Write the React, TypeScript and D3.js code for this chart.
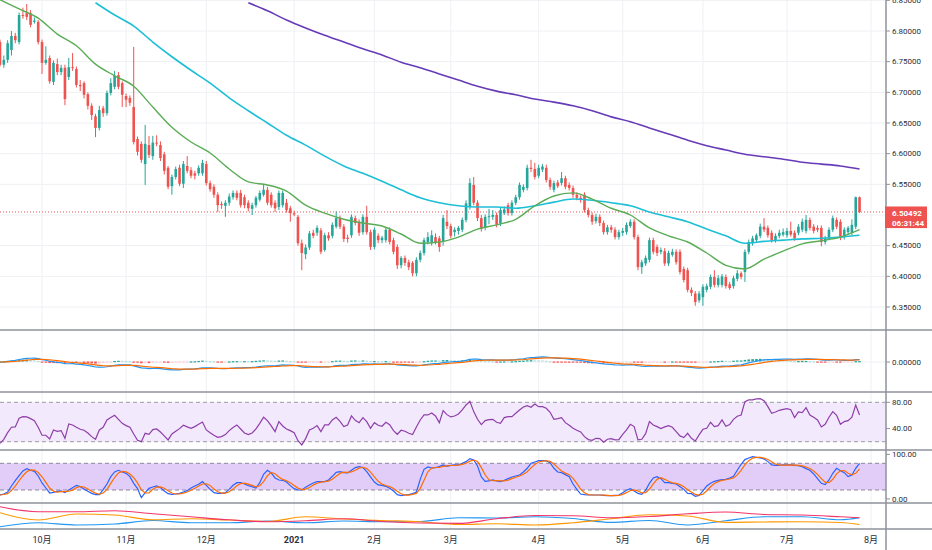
import * as d3 from 'd3';

// daily candles, bar 0 = mid Sep 2020, bar 225 = 28 Jul 2021
const opens = [
  6.782, 6.745, 6.753, 6.769, 6.792, 6.782, 6.826, 6.829, 6.829, 6.815,
  6.815, 6.782, 6.748, 6.756, 6.717, 6.746, 6.733, 6.740, 6.725, 6.741,
  6.738, 6.712, 6.715, 6.697, 6.678, 6.661, 6.642, 6.674, 6.666, 6.699,
  6.709, 6.728, 6.715, 6.694, 6.691, 6.676, 6.624, 6.616, 6.583, 6.614,
  6.596, 6.618, 6.614, 6.599, 6.577, 6.547, 6.562, 6.577, 6.551, 6.580,
  6.573, 6.568, 6.568, 6.568, 6.583, 6.552, 6.546, 6.533, 6.518, 6.515,
  6.520, 6.529, 6.536, 6.536, 6.529, 6.520, 6.510, 6.516, 6.525, 6.533,
  6.541, 6.533, 6.520, 6.513, 6.516, 6.520, 6.511, 6.503, 6.497, 6.454,
  6.436, 6.447, 6.471, 6.471, 6.475, 6.443, 6.467, 6.466, 6.481, 6.495,
  6.481, 6.463, 6.467, 6.495, 6.489, 6.472, 6.497, 6.472, 6.448, 6.466,
  6.459, 6.459, 6.476, 6.459, 6.448, 6.418, 6.430, 6.423, 6.422, 6.405,
  6.427, 6.438, 6.456, 6.455, 6.464, 6.462, 6.456, 6.489, 6.482, 6.472,
  6.474, 6.476, 6.492, 6.513, 6.549, 6.520, 6.495, 6.479, 6.497, 6.497,
  6.500, 6.486, 6.503, 6.516, 6.503, 6.520, 6.529, 6.541, 6.544, 6.577,
  6.575, 6.564, 6.574, 6.577, 6.557, 6.541, 6.553, 6.552, 6.560, 6.549,
  6.544, 6.533, 6.528, 6.533, 6.508, 6.500, 6.490, 6.497, 6.487, 6.472,
  6.480, 6.476, 6.464, 6.471, 6.472, 6.482, 6.489, 6.464, 6.415, 6.421,
  6.427, 6.459, 6.448, 6.440, 6.441, 6.421, 6.435, 6.440, 6.440, 6.412,
  6.410, 6.378, 6.372, 6.361, 6.366, 6.378, 6.383, 6.399, 6.386, 6.386,
  6.399, 6.387, 6.384, 6.396, 6.405, 6.407, 6.440, 6.454, 6.459, 6.466,
  6.481, 6.479, 6.471, 6.459, 6.466, 6.468, 6.467, 6.474, 6.471, 6.471,
  6.476, 6.474, 6.492, 6.481, 6.479, 6.479, 6.456, 6.463, 6.476, 6.492,
  6.489, 6.464, 6.472, 6.471, 6.481, 6.529,
];
const highs = [
  6.786, 6.760, 6.785, 6.800, 6.797, 6.830, 6.838, 6.844, 6.834, 6.822,
  6.818, 6.786, 6.775, 6.760, 6.752, 6.755, 6.745, 6.745, 6.756, 6.764,
  6.742, 6.720, 6.718, 6.700, 6.682, 6.665, 6.678, 6.678, 6.703, 6.723,
  6.735, 6.733, 6.718, 6.698, 6.695, 6.774, 6.628, 6.620, 6.647, 6.629,
  6.629, 6.630, 6.620, 6.603, 6.580, 6.566, 6.579, 6.582, 6.588, 6.596,
  6.578, 6.572, 6.581, 6.590, 6.588, 6.556, 6.550, 6.537, 6.522, 6.524,
  6.535, 6.540, 6.540, 6.541, 6.533, 6.524, 6.520, 6.531, 6.540, 6.549,
  6.546, 6.537, 6.524, 6.540, 6.540, 6.526, 6.515, 6.507, 6.500, 6.460,
  6.452, 6.474, 6.476, 6.483, 6.479, 6.471, 6.472, 6.488, 6.506, 6.499,
  6.485, 6.468, 6.501, 6.499, 6.493, 6.501, 6.515, 6.476, 6.480, 6.470,
  6.466, 6.480, 6.480, 6.463, 6.452, 6.433, 6.434, 6.427, 6.425, 6.431,
  6.442, 6.463, 6.472, 6.475, 6.470, 6.466, 6.500, 6.508, 6.486, 6.480,
  6.482, 6.496, 6.524, 6.560, 6.562, 6.524, 6.500, 6.501, 6.510, 6.508,
  6.504, 6.512, 6.514, 6.520, 6.524, 6.533, 6.553, 6.550, 6.582, 6.590,
  6.585, 6.582, 6.583, 6.582, 6.561, 6.556, 6.557, 6.570, 6.564, 6.553,
  6.548, 6.537, 6.532, 6.537, 6.512, 6.504, 6.502, 6.501, 6.491, 6.484,
  6.484, 6.480, 6.476, 6.479, 6.488, 6.493, 6.493, 6.468, 6.427, 6.434,
  6.463, 6.463, 6.452, 6.447, 6.446, 6.442, 6.445, 6.444, 6.444, 6.416,
  6.414, 6.382, 6.376, 6.376, 6.387, 6.388, 6.403, 6.410, 6.402, 6.404,
  6.403, 6.391, 6.401, 6.410, 6.408, 6.444, 6.460, 6.466, 6.470, 6.486,
  6.495, 6.483, 6.475, 6.470, 6.476, 6.478, 6.479, 6.489, 6.475, 6.485,
  6.494, 6.500, 6.496, 6.485, 6.483, 6.483, 6.466, 6.480, 6.499, 6.496,
  6.493, 6.480, 6.482, 6.493, 6.530, 6.530,
];
const lows = [
  6.742, 6.740, 6.748, 6.760, 6.780, 6.778, 6.820, 6.818, 6.806, 6.812,
  6.778, 6.730, 6.745, 6.714, 6.712, 6.728, 6.728, 6.679, 6.720, 6.735,
  6.708, 6.702, 6.690, 6.672, 6.655, 6.627, 6.638, 6.660, 6.662, 6.695,
  6.705, 6.705, 6.676, 6.676, 6.678, 6.615, 6.597, 6.585, 6.549, 6.593,
  6.590, 6.612, 6.588, 6.566, 6.542, 6.533, 6.558, 6.547, 6.544, 6.568,
  6.560, 6.558, 6.564, 6.564, 6.548, 6.538, 6.528, 6.505, 6.510, 6.497,
  6.515, 6.525, 6.524, 6.512, 6.511, 6.506, 6.500, 6.512, 6.522, 6.530,
  6.516, 6.512, 6.505, 6.508, 6.512, 6.504, 6.489, 6.498, 6.450, 6.410,
  6.428, 6.443, 6.462, 6.466, 6.436, 6.440, 6.458, 6.462, 6.478, 6.477,
  6.456, 6.455, 6.463, 6.483, 6.466, 6.468, 6.468, 6.443, 6.444, 6.454,
  6.454, 6.455, 6.452, 6.436, 6.412, 6.413, 6.417, 6.410, 6.400, 6.400,
  6.423, 6.434, 6.452, 6.450, 6.452, 6.440, 6.450, 6.477, 6.462, 6.465,
  6.468, 6.472, 6.488, 6.509, 6.516, 6.490, 6.473, 6.475, 6.485, 6.492,
  6.480, 6.482, 6.500, 6.499, 6.499, 6.516, 6.525, 6.537, 6.540, 6.570,
  6.558, 6.560, 6.570, 6.553, 6.541, 6.537, 6.544, 6.548, 6.542, 6.540,
  6.528, 6.524, 6.520, 6.504, 6.496, 6.484, 6.486, 6.482, 6.468, 6.468,
  6.471, 6.460, 6.460, 6.466, 6.468, 6.479, 6.460, 6.410, 6.404, 6.417,
  6.423, 6.436, 6.433, 6.436, 6.417, 6.417, 6.432, 6.419, 6.403, 6.390,
  6.374, 6.368, 6.352, 6.357, 6.352, 6.374, 6.379, 6.382, 6.382, 6.382,
  6.380, 6.378, 6.380, 6.392, 6.395, 6.391, 6.436, 6.450, 6.455, 6.462,
  6.472, 6.463, 6.455, 6.455, 6.462, 6.465, 6.463, 6.465, 6.458, 6.467,
  6.472, 6.470, 6.475, 6.470, 6.472, 6.449, 6.452, 6.459, 6.472, 6.477,
  6.459, 6.460, 6.468, 6.467, 6.477, 6.503,
];
const closes = [
  6.745, 6.753, 6.780, 6.792, 6.785, 6.826, 6.825, 6.823, 6.810, 6.817,
  6.782, 6.748, 6.753, 6.718, 6.748, 6.733, 6.740, 6.689, 6.741, 6.740,
  6.712, 6.710, 6.696, 6.678, 6.663, 6.642, 6.671, 6.666, 6.699, 6.715,
  6.727, 6.709, 6.696, 6.688, 6.683, 6.619, 6.603, 6.590, 6.616, 6.598,
  6.618, 6.617, 6.593, 6.572, 6.546, 6.562, 6.575, 6.551, 6.583, 6.572,
  6.564, 6.564, 6.577, 6.585, 6.552, 6.542, 6.533, 6.516, 6.516, 6.520,
  6.530, 6.536, 6.528, 6.516, 6.516, 6.511, 6.516, 6.528, 6.536, 6.541,
  6.520, 6.516, 6.511, 6.536, 6.536, 6.508, 6.503, 6.501, 6.454, 6.438,
  6.447, 6.470, 6.466, 6.479, 6.440, 6.467, 6.462, 6.484, 6.495, 6.481,
  6.461, 6.461, 6.497, 6.487, 6.471, 6.497, 6.472, 6.448, 6.476, 6.459,
  6.463, 6.476, 6.456, 6.440, 6.418, 6.430, 6.422, 6.415, 6.405, 6.427,
  6.438, 6.459, 6.464, 6.467, 6.456, 6.448, 6.495, 6.482, 6.466, 6.476,
  6.479, 6.492, 6.519, 6.552, 6.520, 6.495, 6.477, 6.497, 6.498, 6.500,
  6.484, 6.508, 6.509, 6.503, 6.520, 6.529, 6.549, 6.546, 6.577, 6.575,
  6.562, 6.577, 6.579, 6.557, 6.546, 6.552, 6.547, 6.560, 6.546, 6.544,
  6.533, 6.528, 6.525, 6.508, 6.500, 6.489, 6.497, 6.487, 6.472, 6.480,
  6.476, 6.464, 6.472, 6.474, 6.484, 6.489, 6.464, 6.415, 6.423, 6.430,
  6.459, 6.440, 6.438, 6.443, 6.421, 6.438, 6.440, 6.423, 6.407, 6.394,
  6.378, 6.373, 6.358, 6.372, 6.383, 6.384, 6.399, 6.386, 6.397, 6.400,
  6.384, 6.381, 6.397, 6.405, 6.399, 6.440, 6.456, 6.462, 6.467, 6.481,
  6.476, 6.467, 6.459, 6.466, 6.471, 6.472, 6.474, 6.468, 6.462, 6.481,
  6.489, 6.492, 6.479, 6.474, 6.476, 6.456, 6.461, 6.476, 6.495, 6.481,
  6.463, 6.476, 6.479, 6.484, 6.529, 6.505,
];

// moving averages, one value every 5 bars
const MA_STEP = 5;
const maFastStart = 0;
const maFast = [
  6.851, 6.836, 6.821, 6.795, 6.776, 6.746, 6.727, 6.710, 6.676, 6.643,
  6.619, 6.601, 6.575, 6.554, 6.549, 6.539, 6.516, 6.503, 6.493, 6.487,
  6.482, 6.469, 6.454, 6.456, 6.464, 6.477, 6.484, 6.493, 6.515, 6.531,
  6.536, 6.526, 6.511, 6.500, 6.479, 6.466, 6.456, 6.438, 6.418, 6.412,
  6.428, 6.441, 6.453, 6.458, 6.464, 6.476,
];
const maMidStart = 25;
const maMid = [
  6.846, 6.826, 6.808, 6.782, 6.758, 6.736, 6.715, 6.691, 6.670, 6.650,
  6.630, 6.614, 6.596, 6.580, 6.568, 6.555, 6.541, 6.528, 6.520, 6.515,
  6.513, 6.513, 6.511, 6.515, 6.521, 6.526, 6.524, 6.520, 6.515, 6.505,
  6.497, 6.489, 6.477, 6.466, 6.454, 6.457, 6.459, 6.461, 6.462, 6.464,
  6.467,
];
const maSlowStart = 65;
const maSlow = [
  6.846, 6.833, 6.818, 6.805, 6.793, 6.782, 6.771, 6.761, 6.749, 6.740,
  6.730, 6.720, 6.710, 6.702, 6.696, 6.689, 6.684, 6.678, 6.670, 6.660,
  6.652, 6.642, 6.632, 6.622, 6.613, 6.606, 6.599, 6.595, 6.591, 6.586,
  6.583, 6.580, 6.575,
];

const rsi = [
  17.6, 23.6, 33.8, 42.0, 42.5, 55.6, 58.2, 57.7, 55.1, 52.1,
  42.0, 29.8, 29.8, 24.2, 37.9, 35.9, 36.9, 25.2, 47.0, 45.5,
  42.0, 38.9, 37.4, 33.3, 27.7, 23.7, 37.9, 42.0, 53.1, 56.7,
  60.2, 54.1, 48.0, 44.5, 42.0, 31.8, 22.2, 20.1, 32.8, 31.3,
  38.4, 39.4, 34.8, 28.8, 22.7, 31.8, 35.9, 39.9, 45.0, 42.5,
  40.4, 43.0, 46.5, 50.0, 37.9, 33.8, 29.8, 26.7, 27.7, 30.8,
  36.9, 41.5, 45.5, 39.4, 33.3, 30.8, 33.3, 39.4, 48.0, 57.2,
  52.1, 44.0, 35.4, 50.6, 44.0, 39.4, 36.9, 33.8, 21.6, 15.1,
  24.7, 37.9, 40.4, 44.5, 35.4, 45.5, 45.5, 53.1, 57.2, 51.1,
  43.0, 45.5, 59.2, 52.6, 49.0, 56.7, 50.6, 40.4, 49.0, 45.0,
  43.5, 49.6, 46.0, 36.9, 31.3, 37.4, 35.9, 32.8, 30.8, 42.5,
  53.1, 60.7, 60.7, 63.8, 59.2, 49.0, 67.3, 61.2, 57.7, 59.2,
  62.2, 68.3, 75.9, 81.5, 65.8, 54.1, 46.0, 52.1, 53.6, 54.1,
  49.6, 48.0, 56.7, 58.2, 58.2, 63.3, 68.3, 72.9, 74.9, 72.4,
  77.5, 73.4, 73.4, 70.9, 64.8, 54.1, 55.1, 56.7, 49.0, 45.0,
  40.4, 37.4, 34.8, 27.7, 23.2, 22.2, 25.2, 24.7, 19.1, 23.7,
  24.7, 22.7, 23.2, 31.3, 37.9, 46.5, 43.0, 22.7, 23.7, 32.3,
  50.6, 45.5, 43.0, 39.9, 42.5, 44.5, 42.0, 35.4, 28.8, 26.2,
  32.8, 25.2, 21.1, 30.3, 38.9, 40.4, 49.6, 43.0, 44.5, 53.1,
  43.5, 46.0, 54.1, 58.7, 60.7, 81.0, 83.6, 83.6, 85.1, 85.6,
  82.5, 73.4, 63.3, 65.3, 67.8, 69.3, 70.4, 68.8, 56.7, 65.3,
  64.3, 71.9, 60.7, 57.2, 53.1, 42.5, 46.5, 57.2, 65.8, 60.2,
  46.5, 50.6, 52.1, 57.2, 75.9, 60.7,
];

const stochK = [
  8.8, 11.0, 15.5, 29.0, 41.0, 52.3, 62.8, 68.0, 64.3, 62.0,
  51.5, 35.8, 24.5, 13.3, 14.8, 17.0, 17.8, 14.0, 20.0, 25.3,
  30.5, 27.5, 22.3, 17.0, 12.5, 9.5, 9.5, 20.8, 33.5, 50.0,
  60.5, 64.3, 60.5, 57.5, 50.0, 35.0, 23.0, 2.8, 14.0, 23.8,
  26.8, 29.0, 25.3, 17.8, 11.8, 10.3, 11.0, 12.5, 15.5, 18.5,
  24.5, 29.0, 32.8, 38.8, 30.5, 21.5, 14.0, 12.5, 12.5, 14.0,
  21.5, 30.5, 36.5, 36.5, 33.5, 29.8, 27.5, 24.5, 36.5, 55.3,
  64.3, 58.3, 47.0, 42.5, 41.8, 38.0, 29.8, 23.0, 20.0, 20.0,
  26.0, 31.3, 35.8, 38.8, 38.8, 38.8, 42.5, 50.8, 59.8, 61.3,
  59.0, 58.3, 64.3, 70.3, 72.5, 70.3, 61.3, 49.3, 37.9, 31.3,
  30.5, 28.3, 23.8, 17.8, 9.5, 7.3, 8.8, 9.5, 11.8, 15.5,
  43.9, 66.5, 71.8, 69.5, 70.3, 72.5, 76.3, 73.3, 75.5, 76.3,
  76.3, 80.0, 83.8, 90.5, 87.5, 74.0, 49.3, 39.5, 40.3, 42.5,
  40.3, 38.8, 41.8, 45.5, 49.3, 51.5, 53.8, 60.5, 68.8, 80.0,
  83.0, 86.0, 86.0, 85.3, 81.5, 68.8, 60.5, 59.0, 54.5, 50.0,
  33.5, 21.5, 11.0, 9.5, 8.8, 8.8, 8.8, 8.8, 8.0, 7.3,
  7.3, 8.0, 8.8, 14.0, 19.3, 23.0, 17.8, 12.5, 10.3, 19.3,
  35.0, 47.0, 50.0, 45.5, 36.5, 36.5, 35.0, 33.5, 27.5, 21.5,
  12.5, 11.8, 5.8, 8.0, 17.8, 29.0, 35.0, 39.5, 41.8, 43.3,
  44.0, 47.0, 50.8, 64.3, 77.8, 88.3, 91.9, 95.0, 93.5, 91.9,
  89.8, 83.8, 76.3, 75.5, 75.5, 76.3, 76.3, 76.3, 75.5, 74.8,
  72.5, 68.0, 64.3, 56.0, 45.5, 35.0, 32.0, 42.5, 57.5, 68.8,
  63.5, 59.0, 50.0, 53.8, 68.8, 80.0,
];

const dmiBars = [0, 10, 20, 30, 40, 50, 60, 70, 80, 90, 100, 110, 120, 130, 140, 150, 160, 170, 180, 190, 200, 210, 220, 225];
const dmiAdx = [44.5, 34.5, 34.5, 36.5, 30.5, 24.5, 18.5, 14.5, 16.5, 20.5, 15, 12, 11.3, 20.5, 27, 26.5, 22.5, 25, 30.5, 34, 29, 28, 24.5, 22.5];
const dmiMinus = [32.5, 18, 30, 28, 18.5, 20.5, 18, 15, 24.5, 20, 17, 14.5, 9, 10.5, 8, 12.5, 20.5, 28.5, 26, 13.2, 14, 14.5, 13, 9];
const dmiPlus = [4.5, 12.5, 8, 10, 17, 12.5, 12.5, 16, 12.5, 16, 14.5, 15, 22.5, 22, 24.5, 21, 13.2, 17, 8, 16.5, 24.5, 24.5, 18.5, 22.5];

const priceTicks = [6.35, 6.4, 6.45, 6.5, 6.55, 6.6, 6.65, 6.7, 6.75, 6.8, 6.85];
const monthBars = [11, 33, 54, 77, 98, 118, 141, 163, 184, 206, 228];
const monthLabels = ['10月', '11月', '12月', '2021', '2月', '3月', '4月', '5月', '6月', '7月', '8月'];
const lastPrice = 6.50492;
const countdown = '06:31:44';

const UP = '#26a69a';
const DOWN = '#ef5350';
const FONT = 'Roboto, "Noto Sans CJK JP", sans-serif';
const PLOT_R = 886;
const SEP = '#8f929b';
const TXT = '#2a2e39';

function ema(values: number[], n: number) {
  const k = 2 / (n + 1);
  const out: number[] = [];
  values.forEach((v, i) => out.push(i === 0 ? v : v * k + out[i - 1] * (1 - k)));
  return out;
}

export default function App() {
  const x = d3.scaleLinear().domain([0, 228]).range([0, 871]);
  const yPrice = d3.scaleLinear().domain([6.35, 6.8]).range([307, 31]);
  const yMacd = d3.scaleLinear().domain([-0.1, 0.1]).range([382, 342]);
  const yRsi = d3.scaleLinear().domain([20, 80]).range([441.7, 402.3]);
  const yStoch = d3.scaleLinear().domain([0, 100]).range([498.9, 454.4]);
  const yDmi = d3.scaleLinear().domain([0, 50]).range([529, 504]);

  const pts = (start: number, step: number, vals: number[]) =>
    vals.map((v, k) => [start + k * step, v] as [number, number]);
  const lineOf = (y: d3.ScaleLinear<number, number>, curve = d3.curveMonotoneX) =>
    d3.line<[number, number]>().x(d => x(d[0])).y(d => y(d[1])).curve(curve);

  // MACD 12/26/9 from the closes
  const e12 = ema(closes, 12);
  const e26 = ema(closes, 26);
  const macd = closes.map((_, i) => e12[i] - e26[i]);
  const signal = ema(macd, 9);
  const hist = macd.map((m, i) => m - signal[i]);

  // %D = 3 bar average of %K
  const stochD = stochK.map((_, i) => d3.mean(stochK.slice(Math.max(0, i - 2), i + 1)) as number);

  const bodyW = 2.6;
  const yLast = yPrice(lastPrice);

  return (
    <svg width={932} height={550} style={{ position: 'fixed', left: 0, top: 0, background: '#fff', fontFamily: FONT }}>
      <defs>
        <clipPath id="cMain"><rect x={0} y={0} width={PLOT_R} height={330} /></clipPath>
        <clipPath id="cMacd"><rect x={0} y={331} width={PLOT_R} height={60} /></clipPath>
        <clipPath id="cRsi"><rect x={0} y={393} width={PLOT_R} height={56} /></clipPath>
        <clipPath id="cStoch"><rect x={0} y={451} width={PLOT_R} height={51} /></clipPath>
        <clipPath id="cDmi"><rect x={0} y={504} width={PLOT_R} height={24} /></clipPath>
      </defs>

      {/* grid */}
      {monthBars.map(b => (
        <line key={'vg' + b} x1={x(b)} x2={x(b)} y1={0} y2={529} stroke="#eef0f4" />
      ))}
      {priceTicks.map(p => (
        <line key={'hg' + p} x1={0} x2={PLOT_R} y1={yPrice(p)} y2={yPrice(p)} stroke="#eef0f4" />
      ))}

      {/* main pane */}
      <g clipPath="url(#cMain)">
        <line x1={0} x2={PLOT_R} y1={yLast} y2={yLast} stroke={DOWN} strokeDasharray="1 2" strokeWidth={1} />
        {closes.map((c, i) => {
          const o = opens[i];
          const col = c >= o ? UP : DOWN;
          const top = yPrice(Math.max(o, c));
          const bot = yPrice(Math.min(o, c));
          return (
            <g key={'k' + i}>
              <line x1={x(i)} x2={x(i)} y1={yPrice(highs[i])} y2={yPrice(lows[i])} stroke={col} strokeWidth={1} />
              <rect x={x(i) - bodyW / 2} y={top} width={bodyW} height={Math.max(1, bot - top)} fill={col} />
            </g>
          );
        })}
        <path d={lineOf(yPrice)(pts(maSlowStart, MA_STEP, maSlow)) || ''} fill="none" stroke="#673ab7" strokeWidth={1.6} />
        <path d={lineOf(yPrice)(pts(maMidStart, MA_STEP, maMid)) || ''} fill="none" stroke="#1cbfd6" strokeWidth={1.6} />
        <path d={lineOf(yPrice)(pts(maFastStart, MA_STEP, maFast)) || ''} fill="none" stroke="#5aad56" strokeWidth={1.4} />
      </g>

      {/* MACD pane */}
      <g clipPath="url(#cMacd)">
        <line x1={0} x2={PLOT_R} y1={yMacd(0)} y2={yMacd(0)} stroke="#eef0f4" />
        {hist.map((h, i) => {
          const prev = i > 0 ? hist[i - 1] : h;
          const col = h >= 0 ? (h >= prev ? '#26a69a' : '#b2dfdb') : (h <= prev ? '#ff5252' : '#ffcdd2');
          const y0 = yMacd(0);
          const y1 = yMacd(h);
          return (
            <rect key={'h' + i} x={x(i) - bodyW / 2} y={Math.min(y0, y1) - 0.5} width={bodyW}
              height={Math.max(1.2, Math.abs(y1 - y0))} fill={col} />
          );
        })}
        <path d={lineOf(yMacd, d3.curveLinear)(macd.map((v, i) => [i, v] as [number, number])) || ''} fill="none" stroke="#2196f3" strokeWidth={1.2} />
        <path d={lineOf(yMacd, d3.curveLinear)(signal.map((v, i) => [i, v] as [number, number])) || ''} fill="none" stroke="#ff6d00" strokeWidth={1.2} />
      </g>

      {/* RSI pane */}
      <g clipPath="url(#cRsi)">
        <rect x={0} y={yRsi(80)} width={PLOT_R} height={yRsi(20) - yRsi(80)} fill="#f3e9fd" />
        <line x1={0} x2={PLOT_R} y1={yRsi(80)} y2={yRsi(80)} stroke="#9a9ca5" strokeDasharray="4 3" />
        <line x1={0} x2={PLOT_R} y1={yRsi(20)} y2={yRsi(20)} stroke="#9a9ca5" strokeDasharray="4 3" />
        <path d={lineOf(yRsi, d3.curveLinear)(rsi.map((v, i) => [i, v] as [number, number])) || ''} fill="none" stroke="#8e3fa8" strokeWidth={1.2} />
      </g>

      {/* Stochastic pane */}
      <g clipPath="url(#cStoch)">
        <rect x={0} y={yStoch(80)} width={PLOT_R} height={yStoch(20) - yStoch(80)} fill="#e2cdf8" />
        <line x1={0} x2={PLOT_R} y1={yStoch(80)} y2={yStoch(80)} stroke="#8d8a98" strokeDasharray="4 3" />
        <line x1={0} x2={PLOT_R} y1={yStoch(20)} y2={yStoch(20)} stroke="#8d8a98" strokeDasharray="4 3" />
        <path d={lineOf(yStoch, d3.curveLinear)(stochK.map((v, i) => [i, v] as [number, number])) || ''} fill="none" stroke="#2962ff" strokeWidth={1.2} />
        <path d={lineOf(yStoch, d3.curveLinear)(stochD.map((v, i) => [i, v] as [number, number])) || ''} fill="none" stroke="#ff6d00" strokeWidth={1.2} />
      </g>

      {/* DMI pane */}
      <g clipPath="url(#cDmi)">
        <path d={lineOf(yDmi)(dmiBars.map((b, k) => [b, dmiPlus[k]] as [number, number])) || ''} fill="none" stroke="#2196f3" strokeWidth={1.2} />
        <path d={lineOf(yDmi)(dmiBars.map((b, k) => [b, dmiMinus[k]] as [number, number])) || ''} fill="none" stroke="#ff9800" strokeWidth={1.2} />
        <path d={lineOf(yDmi)(dmiBars.map((b, k) => [b, dmiAdx[k]] as [number, number])) || ''} fill="none" stroke="#f2366a" strokeWidth={1.2} />
      </g>

      {/* separators and axes */}
      {[330, 392, 450, 503, 529].map(y => (
        <line key={'s' + y} x1={0} x2={932} y1={y} y2={y} stroke={SEP} strokeWidth={1.5} />
      ))}
      <line x1={PLOT_R} x2={PLOT_R} y1={0} y2={550} stroke={SEP} strokeWidth={1.5} />

      {/* price axis; the label under the last-price tag is hidden as in the app */}
      {priceTicks.filter(p => Math.abs(yPrice(p) - yLast) > 12).map(p => (
        <g key={'pt' + p}>
          <line x1={PLOT_R} x2={PLOT_R + 4} y1={yPrice(p)} y2={yPrice(p)} stroke={SEP} />
          <text x={892} y={yPrice(p)} dy="0.35em" fontSize={8} fill={TXT}>{p.toFixed(5)}</text>
        </g>
      ))}
      <rect x={PLOT_R - 1} y={yLast - 5.5} width={42} height={21.6} fill={DOWN} />
      <text x={892} y={yLast + 0.8} dy="0.35em" fontSize={8} fontWeight="bold" fill="#fff">{lastPrice.toFixed(5)}</text>
      <text x={892} y={yLast + 10.8} dy="0.35em" fontSize={8} fontWeight="bold" fill="#fff">{countdown}</text>

      {/* indicator scales */}
      {[0].map(v => (
        <g key="m0">
          <line x1={PLOT_R} x2={PLOT_R + 4} y1={yMacd(v)} y2={yMacd(v)} stroke={SEP} />
          <text x={892} y={yMacd(v)} dy="0.35em" fontSize={8} fill={TXT}>{v.toFixed(5)}</text>
        </g>
      ))}
      {[80, 40].map(v => (
        <g key={'r' + v}>
          <line x1={PLOT_R} x2={PLOT_R + 4} y1={yRsi(v)} y2={yRsi(v)} stroke={SEP} />
          <text x={892} y={yRsi(v)} dy="0.35em" fontSize={8} fill={TXT}>{v.toFixed(2)}</text>
        </g>
      ))}
      {[100, 0].map(v => (
        <g key={'st' + v}>
          <line x1={PLOT_R} x2={PLOT_R + 4} y1={yStoch(v)} y2={yStoch(v)} stroke={SEP} />
          <text x={892} y={yStoch(v)} dy="0.35em" fontSize={8} fill={TXT}>{v.toFixed(2)}</text>
        </g>
      ))}

      {/* time axis */}
      {monthBars.map((b, k) => (
        <text key={'t' + b} x={x(b)} y={539.5} dy="0.35em" fontSize={9} fill={TXT} textAnchor="middle"
          fontWeight={monthLabels[k] === '2021' ? 'bold' : 'normal'}>{monthLabels[k]}</text>
      ))}
    </svg>
  );
}
